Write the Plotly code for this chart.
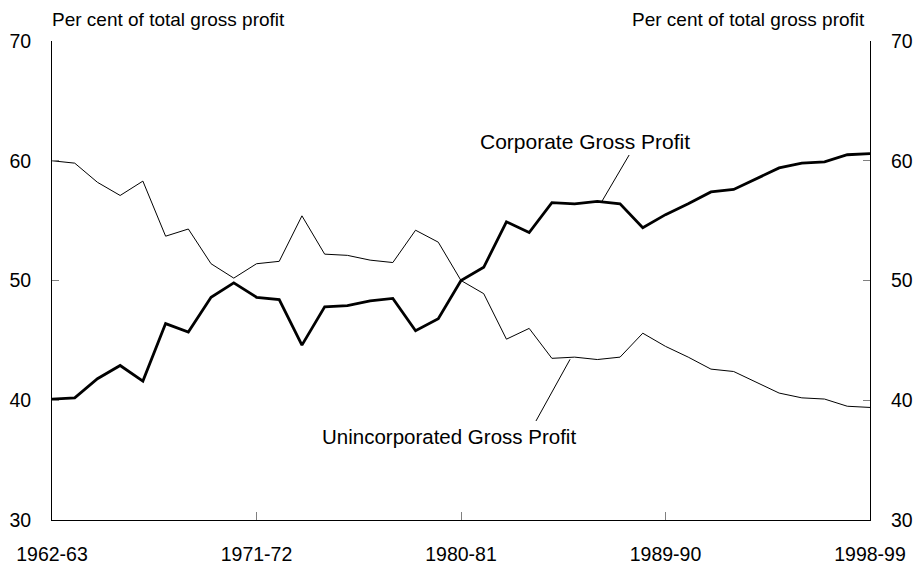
import plotly.graph_objects as go

years = [f"{y}-{str(y+1)[-2:]}" for y in range(1962, 1999)]
corporate = [40.1, 40.2, 41.8, 42.9, 41.6, 46.4, 45.7, 48.6, 49.8, 48.6, 48.4, 44.6,
             47.8, 47.9, 48.3, 48.5, 45.8, 46.8, 50.0, 51.1, 54.9, 54.0, 56.5, 56.4,
             56.6, 56.4, 54.4, 55.5, 56.4, 57.4, 57.6, 58.5, 59.4, 59.8, 59.9, 60.5, 60.6]
unincorporated = [60.0, 59.8, 58.2, 57.1, 58.3, 53.7, 54.3, 51.4, 50.2, 51.4, 51.6, 55.4,
                  52.2, 52.1, 51.7, 51.5, 54.2, 53.2, 50.0, 48.9, 45.1, 46.0, 43.5, 43.6,
                  43.4, 43.6, 45.6, 44.5, 43.6, 42.6, 42.4, 41.5, 40.6, 40.2, 40.1, 39.5, 39.4]
tick_labels = ["1962-63", "1971-72", "1980-81", "1989-90", "1998-99"]
y_ticks = [30, 40, 50, 60, 70]

x_idx = list(range(len(years)))
tick_idx = [years.index(t) for t in tick_labels]

FONT = "Liberation Sans, Arial, sans-serif"

fig = go.Figure()
fig.add_trace(go.Scatter(x=x_idx, y=unincorporated, mode="lines",
                         line=dict(color="black", width=1), yaxis="y2",
                         hoverinfo="skip", showlegend=False))
fig.add_trace(go.Scatter(x=x_idx, y=corporate, mode="lines",
                         line=dict(color="black", width=2.8),
                         hoverinfo="skip", showlegend=False))

axis_common = dict(range=[30, 70], tickvals=y_ticks, ticks="inside", ticklen=7,
                   tickcolor="#808080", showline=True, linecolor="black", linewidth=1,
                   showgrid=False, zeroline=False, ticklabelstandoff=16,
                   automargin=False,
                   tickfont=dict(family=FONT, size=19.5, color="black"))

fig.update_layout(
    width=916, height=565,
    margin=dict(l=52, r=46, t=41, b=45),
    paper_bgcolor="white", plot_bgcolor="white",
    font=dict(family=FONT, size=19, color="black"),
    xaxis=dict(range=[0, 36], tickvals=tick_idx, ticktext=tick_labels,
               ticks="inside", ticklen=8, tickcolor="#808080",
               showline=True, linecolor="black", linewidth=1,
               showgrid=False, zeroline=False, ticklabelstandoff=17,
               automargin=False,
               tickfont=dict(family=FONT, size=19.5, color="black")),
    yaxis=dict(side="left", **axis_common),
    yaxis2=dict(side="right", overlaying="y", **axis_common),
    annotations=[
        dict(text="Per cent of total gross profit", xref="paper", yref="paper",
             x=0, y=1, xshift=-2, yshift=22, xanchor="left", yanchor="middle",
             showarrow=False, font=dict(size=19)),
        dict(text="Per cent of total gross profit", xref="paper", yref="paper",
             x=1, y=1, xshift=-3, yshift=22, xanchor="right", yanchor="middle",
             showarrow=False, font=dict(size=19)),
        dict(text="Corporate Gross Profit", xref="x", yref="y",
             x=23.46, y=61.6, showarrow=False, font=dict(size=21)),
        dict(text="Unincorporated Gross Profit", xref="x", yref="y",
             x=17.47, y=36.97, showarrow=False, font=dict(size=20.5)),
    ],
    shapes=[
        dict(type="line", xref="x", yref="y", x0=25.4, y0=60.48, x1=24.21, y1=56.64,
             line=dict(color="black", width=1)),
        dict(type="line", xref="x", yref="y", x0=22.8, y0=43.42, x1=21.3, y1=38.27,
             line=dict(color="black", width=1)),
    ],
)

# remove the default page margin so the 916x565 figure fills the window exactly
fig.write_html(
    "out.html",
    config={"displayModeBar": False},
    post_script="document.body.style.margin='0';document.body.style.overflow='hidden';",
)
